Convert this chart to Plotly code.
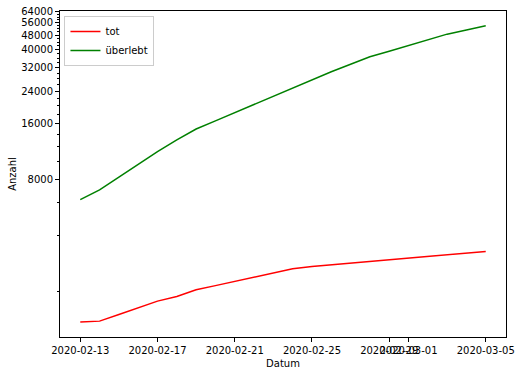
import plotly.graph_objects as go
import pandas as pd

dates = ["2020-02-13", "2020-02-14", "2020-02-15", "2020-02-16", "2020-02-17", "2020-02-18",
         "2020-02-19", "2020-02-20", "2020-02-21", "2020-02-22", "2020-02-23", "2020-02-24",
         "2020-02-25", "2020-02-26", "2020-02-27", "2020-02-28", "2020-02-29", "2020-03-01",
         "2020-03-02", "2020-03-03", "2020-03-04", "2020-03-05"]

tot = [1368, 1385, 1502, 1632, 1775, 1879, 2042, 2151, 2266, 2387, 2516, 2649,
       2725, 2780, 2839, 2903, 2965, 3022, 3087, 3152, 3221, 3288]

ueberlebt = [6246, 7041, 8250, 9666, 11314, 13082, 14985, 16587, 18377, 20347, 22545, 24930,
             27763, 30466, 33458, 36680, 39312, 42128, 45150, 48568, 51110, 53840]

x_ticks = ["2020-02-13", "2020-02-17", "2020-02-21", "2020-02-25", "2020-02-29", "2020-03-01", "2020-03-05"]
y_ticks = [8000, 16000, 24000, 32000, 40000, 48000, 56000, 64000]
y_minor = [v for v in range(2000, 64001, 2000) if v % 8000 != 0]

x = pd.to_datetime(dates)

fig = go.Figure()
fig.add_trace(go.Scatter(x=x, y=tot, mode="lines", name="tot",
                         line=dict(color="red", width=1.5)))
fig.add_trace(go.Scatter(x=x, y=ueberlebt, mode="lines", name="überlebt",
                         line=dict(color="green", width=1.5)))

x0 = x.min() - pd.Timedelta(hours=25.2)
x1 = x.max() + pd.Timedelta(hours=25.2)

font = dict(family="DejaVu Sans", size=10, color="#000000")

fig.update_layout(
    width=521, height=375,
    margin=dict(l=60, r=15, t=11, b=38),
    paper_bgcolor="white", plot_bgcolor="white",
    font=font,
    showlegend=True,
    legend=dict(x=0.01, y=0.985, xanchor="left", yanchor="top",
                bgcolor="rgba(255,255,255,0.8)", bordercolor="#cccccc", borderwidth=1,
                font=dict(family="DejaVu Sans", size=10, color="#000000"),
                tracegroupgap=0, itemwidth=30),
    xaxis=dict(
        type="date", range=[x0, x1],
        tickvals=pd.to_datetime(x_ticks), ticktext=x_ticks,
        tickangle=0, automargin=False,
        showgrid=False, zeroline=False,
        showline=True, mirror=True, linecolor="black", linewidth=1,
        ticks="outside", ticklen=4, tickcolor="black",
        title=dict(text="Datum", standoff=4, font=font),
    ),
    yaxis=dict(
        type="log", range=[3.056, 4.811],
        tickvals=y_ticks, ticktext=[str(v) for v in y_ticks],
        automargin=False,
        showgrid=False, zeroline=False,
        showline=True, mirror=True, linecolor="black", linewidth=1,
        ticks="outside", ticklen=4, tickcolor="black",
        minor=dict(tickvals=y_minor, ticks="outside", ticklen=2, tickcolor="black", showgrid=False),
        title=dict(text="Anzahl", standoff=2, font=font),
    ),
)

fig.write_html("out.html")
